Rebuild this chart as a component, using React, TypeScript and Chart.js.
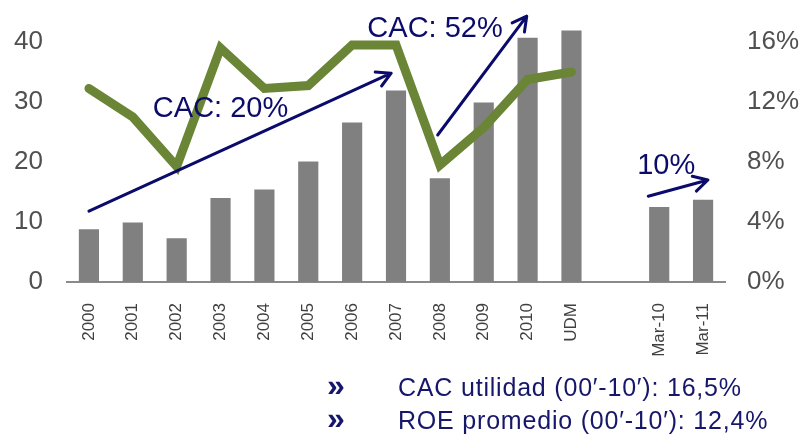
import React, { useEffect, useRef } from "react";
import { Chart, registerables } from "chart.js";

Chart.register(...registerables);

// ---- data ----
const categories = ["2000", "2001", "2002", "2003", "2004", "2005", "2006", "2007", "2008", "2009", "2010", "UDM", "", "Mar-10", "Mar-11"];
const utilidad = [8.8, 9.9, 7.3, 14, 15.4, 20.1, 26.6, 31.9, 17.3, 29.9, 40.7, 41.9, null, 12.5, 13.7];
const roe = [12.9, 11.0, 7.7, 15.6, 12.9, 13.1, 15.8, 15.8, 7.8, 10.3, 13.5, 14.0, null, null, null];
const leftTicks = [0, 10, 20, 30, 40];
const rightTicks = [0, 4, 8, 12, 16];

// annotation arrows in data space: [category index, left-axis value]
const arrowFrom = [[0, 11.8], [7.95, 24.5], [12.75, 14.3]];
const arrowTo = [[6.89, 34.8], [9.98, 44.3], [14.11, 17.0]];
const noteTexts = ["CAC: 20%", "CAC: 52%", "10%"];
const notePos = [[3.0, 28.8], [7.89, 42.2], [13.16, 19.3]];
const bullets = ["CAC utilidad (00\u2032-10\u2032): 16,5%", "ROE promedio (00\u2032-10\u2032): 12,4%"];

const NAVY = "#0b0b6b";

const annotPlugin = {
  id: "annot",
  afterDatasetsDraw(chart: any) {
    const { ctx, scales } = chart;
    const xs = scales.x;
    const ys = scales.y;
    ctx.save();
    ctx.strokeStyle = NAVY;
    ctx.lineWidth = 3;
    ctx.lineCap = "round";
    ctx.lineJoin = "round";
    for (let i = 0; i < arrowFrom.length; i++) {
      const x1 = xs.getPixelForValue(arrowFrom[i][0]);
      const y1 = ys.getPixelForValue(arrowFrom[i][1]);
      const x2 = xs.getPixelForValue(arrowTo[i][0]);
      const y2 = ys.getPixelForValue(arrowTo[i][1]);
      const ang = Math.atan2(y2 - y1, x2 - x1);
      const hl = 16;
      ctx.beginPath();
      ctx.moveTo(x1, y1);
      ctx.lineTo(x2, y2);
      ctx.moveTo(x2 - hl * Math.cos(ang - 0.5), y2 - hl * Math.sin(ang - 0.5));
      ctx.lineTo(x2, y2);
      ctx.lineTo(x2 - hl * Math.cos(ang + 0.5), y2 - hl * Math.sin(ang + 0.5));
      ctx.stroke();
    }
    ctx.fillStyle = NAVY;
    ctx.font = "29px 'Liberation Sans', Arial, sans-serif";
    ctx.textAlign = "center";
    ctx.textBaseline = "middle";
    for (let i = 0; i < noteTexts.length; i++) {
      ctx.fillText(noteTexts[i], xs.getPixelForValue(notePos[i][0]), ys.getPixelForValue(notePos[i][1]));
    }
    // bullet lines under the chart
    ctx.textAlign = "left";
    ctx.textBaseline = "alphabetic";
    ctx.fillStyle = "#16166a";
    bullets.forEach((t, i) => {
      const yb = 396 + i * 33;
      ctx.font = "bold 32px 'Liberation Sans', Arial, sans-serif";
      ctx.fillText("\u00bb", 327, yb);
      ctx.font = "25px 'Liberation Sans', Arial, sans-serif";
      (ctx as any).letterSpacing = "0.8px";
      ctx.fillText(t, 398, yb);
      (ctx as any).letterSpacing = "0px";
    });
    ctx.restore();
  },
};

const noPad = (s: any) => {
  s.paddingTop = 0;
  s.paddingBottom = 0;
  s.paddingLeft = 0;
  s.paddingRight = 0;
};

export default function App() {
  const ref = useRef<HTMLCanvasElement | null>(null);
  useEffect(() => {
    document.body.style.margin = "0";
    const chart = new Chart(ref.current as HTMLCanvasElement, {
      type: "bar",
      data: {
        labels: categories,
        datasets: [
          {
            type: "line",
            label: "ROE",
            data: roe as any,
            yAxisID: "y1",
            borderColor: "#6a8535",
            borderWidth: 9,
            pointRadius: 0,
            tension: 0,
            borderCapStyle: "round",
            borderJoinStyle: "miter",
            spanGaps: false,
            order: 1,
          } as any,
          {
            type: "bar",
            label: "Utilidad",
            data: utilidad as any,
            yAxisID: "y",
            backgroundColor: "#808080",
            barPercentage: 0.46,
            categoryPercentage: 1,
            order: 2,
          },
        ],
      },
      options: {
        animation: false,
        responsive: true,
        maintainAspectRatio: false,
        layout: { padding: { top: 12, left: 0, right: 0, bottom: 0 } },
        plugins: { legend: { display: false }, tooltip: { enabled: false } },
        scales: {
          x: {
            grid: { display: false, drawTicks: false },
            border: { display: true, color: "#8a8a8a", width: 2 },
            ticks: {
              autoSkip: false,
              minRotation: 90,
              maxRotation: 90,
              padding: 21,
              color: "#404040",
              font: { family: "'Liberation Sans', Arial, sans-serif", size: 17 },
            },
            afterFit: (s: any) => { s.height = 156; noPad(s); },
          },
          y: {
            position: "left",
            min: 0,
            max: 45,
            grid: { display: false, drawTicks: false },
            border: { display: false },
            afterBuildTicks: (s: any) => { s.ticks = leftTicks.map((v) => ({ value: v })); },
            ticks: {
              padding: 24,
              color: "#505050",
              font: { family: "'Liberation Sans', Arial, sans-serif", size: 26 },
            },
            afterFit: (s: any) => { s.width = 67; noPad(s); },
          },
          y1: {
            position: "right",
            min: 0,
            max: 18,
            grid: { display: false, drawTicks: false },
            border: { display: false },
            afterBuildTicks: (s: any) => { s.ticks = rightTicks.map((v) => ({ value: v })); },
            ticks: {
              padding: 22,
              color: "#505050",
              font: { family: "'Liberation Sans', Arial, sans-serif", size: 26 },
              callback: (v: any) => v + "%",
            },
            afterFit: (s: any) => { s.width = 80; noPad(s); },
          },
        },
      },
      plugins: [annotPlugin],
    });
    return () => chart.destroy();
  }, []);
  return (
    <div style={{ position: "relative", width: 805, height: 438 }}>
      <canvas ref={ref} />
    </div>
  );
}
